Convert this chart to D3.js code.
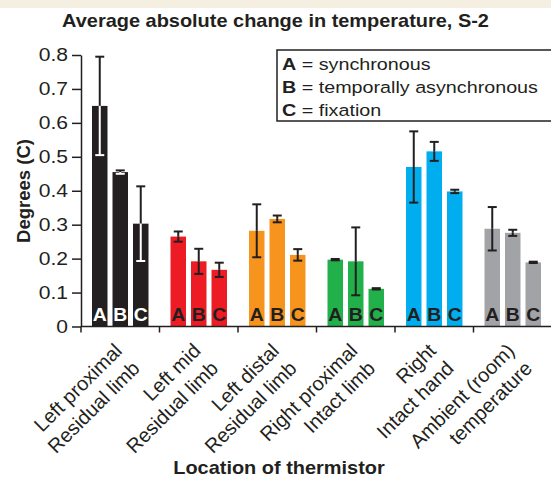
<!DOCTYPE html>
<html>
<head>
<meta charset="utf-8" />
<title>Average absolute change in temperature, S-2</title>
<style>
html, body {
  margin: 0;
  padding: 0;
  background: #ffffff;
}
svg text {
  font-family: "Liberation Sans", Arial, Helvetica, sans-serif;
  fill: #231f20;
}
</style>
</head>
<body>
<script src="https://d3js.org/d3.v7.min.js"></script>
<script>

// ---------------------------------------------------------
// Data

const groups = ['Left proximal|Residual limb', 'Left mid|Residual limb', 'Left distal|Residual limb',
                'Right proximal|Intact limb', 'Right|Intact hand', 'Ambient (room)|temperature']
const conditions = ['A', 'B', 'C']
const groupColors = ['#231f20', '#ed1c24', '#f7941d', '#22b04b', '#00aeef', '#a1a3a6']

// mean per group, in A/B/C order
const meanA = [0.650, 0.265, 0.282, 0.197, 0.470, 0.288]
const meanB = [0.455, 0.192, 0.317, 0.192, 0.516, 0.276]
const meanC = [0.303, 0.167, 0.211, 0.111, 0.398, 0.189]
// error bar half-widths
const errA = [0.145, 0.015, 0.078, 0.002, 0.105, 0.064]
const errB = [0.005, 0.037, 0.010, 0.100, 0.028, 0.009]
const errC = [0.110, 0.021, 0.017, 0.002, 0.005, 0.002]

const yTicks = [0, 0.1, 0.2, 0.3, 0.4, 0.5, 0.6, 0.7, 0.8]
const legendLines = [['A', 'synchronous'], ['B', 'temporally asynchronous'], ['C', 'fixation']]

// ---------------------------------------------------------
// Setup

const W = 551, H = 479
const SX = 1.14   // the reference text is a little stretched sideways
const ink = '#231f20'

const svg = d3.select('body').append('svg')
  .attr('width', W)
  .attr('height', H)

// beige strip at the very top
svg.append('rect')
  .attr('x', 0).attr('y', 0)
  .attr('width', W).attr('height', 8)
  .attr('fill', '#f4efe1')

const y = d3.scaleLinear().domain([0, 0.8]).range([326.5, 55])
const x = d3.scaleBand().domain(groups).range([81, 552])
const xIn = d3.scaleBand().domain(conditions).range([0, x.bandwidth()])
  .paddingInner(0.244).paddingOuter(0.537)

const rows = []
groups.forEach((g, i) => {
  const means = [meanA[i], meanB[i], meanC[i]]
  const errs = [errA[i], errB[i], errC[i]]
  conditions.forEach((c, j) => {
    rows.push({ group: g, gi: i, cond: c, v: means[j], e: errs[j] })
  })
})

function stretched(sel, tx, ty) {
  return sel.attr('transform', `translate(${tx},${ty}) scale(${SX},1)`)
}

// ---------------------------------------------------------
// Title

stretched(svg.append('text'), W / 2, 27)
  .attr('text-anchor', 'middle')
  .style('font-size', '17.5px')
  .style('font-weight', 'bold')
  .text('Average absolute change in temperature, S-2')

// ---------------------------------------------------------
// Bars

const bars = svg.append('g')

bars.selectAll('rect')
  .data(rows)
  .enter().append('rect')
  .attr('x', d => x(d.group) + xIn(d.cond))
  .attr('y', d => y(d.v))
  .attr('width', xIn.bandwidth())
  .attr('height', d => y(0) - y(d.v))
  .attr('fill', d => groupColors[d.gi])

// error bars: the part above the bar is always dark, the part inside
// the bar is white when the bar itself is black
const err = svg.append('g')
  .attr('stroke-width', 2)

rows.forEach(d => {
  const cx = x(d.group) + xIn(d.cond) + xIn.bandwidth() / 2
  const inside = d.gi === 0 ? '#ffffff' : ink
  const cap = 4.5
  err.append('line')
    .attr('x1', cx).attr('x2', cx)
    .attr('y1', y(d.v + d.e)).attr('y2', y(d.v))
    .attr('stroke', ink)
  err.append('line')
    .attr('x1', cx - cap).attr('x2', cx + cap)
    .attr('y1', y(d.v + d.e)).attr('y2', y(d.v + d.e))
    .attr('stroke', ink)
  err.append('line')
    .attr('x1', cx).attr('x2', cx)
    .attr('y1', y(d.v)).attr('y2', y(d.v - d.e))
    .attr('stroke', inside)
  err.append('line')
    .attr('x1', cx - cap).attr('x2', cx + cap)
    .attr('y1', y(d.v - d.e)).attr('y2', y(d.v - d.e))
    .attr('stroke', inside)
})

// letters inside the bars
svg.append('g').selectAll('text')
  .data(rows)
  .enter().append('text')
  .attr('transform', d => `translate(${x(d.group) + xIn(d.cond) + xIn.bandwidth() / 2},320.5) scale(1.05,1)`)
  .attr('text-anchor', 'middle')
  .style('font-size', '18.5px')
  .style('font-weight', 'bold')
  .style('fill', d => d.gi === 0 ? '#ffffff' : ink)
  .text(d => d.cond)

// ---------------------------------------------------------
// Axes

const yAxis = svg.append('g')
  .attr('transform', 'translate(81,0)')
  .call(d3.axisLeft(y).tickValues(yTicks).tickFormat(d3.format('')).tickSize(9).tickSizeOuter(0).tickPadding(4))

yAxis.select('.domain').attr('stroke', ink).attr('stroke-width', 1.5)
yAxis.selectAll('.tick line').attr('stroke', ink).attr('stroke-width', 1.5)
yAxis.selectAll('.tick text')
  .attr('fill', ink)
  .style('font-size', '18.5px')
  .style('font-family', '"Liberation Sans", Arial, sans-serif')
  .attr('transform', `scale(${SX},1)`)
  .attr('x', -13 / SX)

// x axis line with a tick at the start of every group
svg.append('line')
  .attr('x1', x.range()[0]).attr('x2', x.range()[1])
  .attr('y1', y(0)).attr('y2', y(0))
  .attr('stroke', ink).attr('stroke-width', 1.5)

svg.append('g').selectAll('line')
  .data(groups)
  .enter().append('line')
  .attr('x1', d => x(d)).attr('x2', d => x(d))
  .attr('y1', y(0)).attr('y2', y(0) + 6)
  .attr('stroke', ink).attr('stroke-width', 1.5)

// rotated two-line group labels
const xl = svg.append('g').selectAll('text')
  .data(groups)
  .enter().append('text')
  .attr('transform', d => `translate(${x(d) + x.bandwidth() / 2 + 3},352) rotate(-45)`)
  .attr('text-anchor', 'end')
  .style('font-size', '20px')

xl.append('tspan')
  .attr('x', 0).attr('y', 0)
  .text(d => d.split('|')[0])
xl.append('tspan')
  .attr('x', 0).attr('y', 25)
  .text(d => d.split('|')[1])

stretched(svg.append('text'), 279, 474)
  .attr('text-anchor', 'middle')
  .style('font-size', '17.5px')
  .style('font-weight', 'bold')
  .text('Location of thermistor')

svg.append('text')
  .attr('transform', 'translate(30,191) rotate(-90)')
  .attr('text-anchor', 'middle')
  .style('font-size', '18.5px')
  .style('font-weight', 'bold')
  .text('Degrees (C)')

// ---------------------------------------------------------
// Legend

svg.append('rect')
  .attr('x', 277).attr('y', 50)
  .attr('width', 300).attr('height', 71)
  .attr('fill', '#ffffff')
  .attr('stroke', ink).attr('stroke-width', 1.5)

legendLines.forEach((l, i) => {
  const t = stretched(svg.append('text'), 282, 69.5 + i * 23)
    .style('font-size', '17.3px')
  t.append('tspan').style('font-weight', 'bold').text(l[0])
  t.append('tspan').text(' = ' + l[1])
})

</script>
</body>
</html>
